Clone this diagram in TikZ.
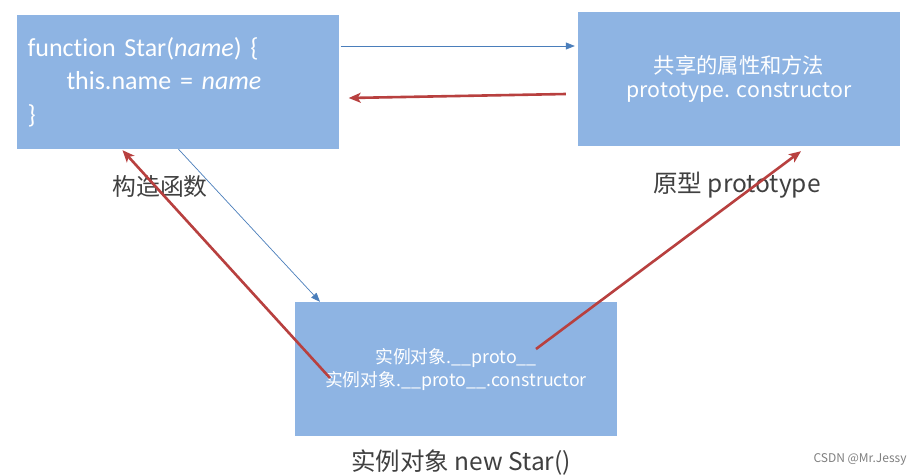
\documentclass[tikz,border=0pt]{standalone}
\usepackage{fontspec}
\setmainfont[Ligatures=CommonOff]{Carlito}
\newfontfamily\cjk{Noto Sans CJK SC}
\usetikzlibrary{arrows.meta,calc}
\definecolor{boxfill}{HTML}{8EB4E3}
\definecolor{bluearr}{HTML}{4A7EBB}
\definecolor{redarr}{HTML}{B8403F}
\definecolor{labelgray}{HTML}{404040}
\tikzset{
  panel/.style={rectangle, fill=boxfill, draw=none, minimum width=322pt, minimum height=134pt, text=white},
  caption/.style={text=labelgray, font=\cjk\fontsize{24.5}{28}\selectfont},
  thinarrow/.style={draw=bluearr, line width=0.7pt, -{Triangle[length=9pt,width=7pt]}},
  thickarrow/.style={draw=redarr, line width=2.6pt, -{Stealth[length=12pt,width=10pt,inset=3pt]}}
}
\begin{document}
\begin{tikzpicture}[x=1pt,y=-1pt]
\useasboundingbox[fill=white] (0,0) rectangle (916,475);
\node[panel, text width=300pt, inner xsep=11pt, align=left, font=\fontsize{26}{33.5}\selectfont] (f) at (177.5,82)
  {function Star(\textit{name}) \{\\\hspace*{39pt}this.name = \textit{name}\\\}};
\node[panel, align=center, font=\cjk\fontsize{21.3}{24}\selectfont] (p) at (739,79)
  {共享的属性和方法\\prototype. constructor};
\node[panel, align=center, font=\cjk\fontsize{17.8}{23}\selectfont] (o) at (456,369)
  {实例对象.\_\_proto\_\_\\实例对象.\_\_proto\_\_.constructor};
\node[caption, font=\cjk\fontsize{23.8}{28}\selectfont] (fl) at (160,186) {构造函数};
\node[caption] (pl) at (737,185) {原型 prototype};
\node[caption] (ol) at (461,463) {实例对象 new Star()};
\node[text=gray, font=\cjk\fontsize{12}{14}\selectfont] (wm) at (860,459) {CSDN @Mr.Jessy};
\draw[thinarrow] ([xshift=2pt,yshift=36pt]f.east) -- ([xshift=-3pt,yshift=33pt]p.west);
\draw[thickarrow] ([xshift=-12pt,yshift=-15pt]p.west) -- ([xshift=10pt,yshift=-16pt]f.east);
\draw[thinarrow] ([xshift=1pt]f.south) -- ([xshift=-136pt]o.north);
\draw[thickarrow] ([xshift=-126pt,yshift=-9pt]o.center) -- ([xshift=-55pt,yshift=-1pt]f.south);
\draw[thickarrow] ([xshift=80pt,yshift=20pt]o.center) -- ([xshift=62pt,yshift=-5pt]p.south);
\end{tikzpicture}
\end{document}
